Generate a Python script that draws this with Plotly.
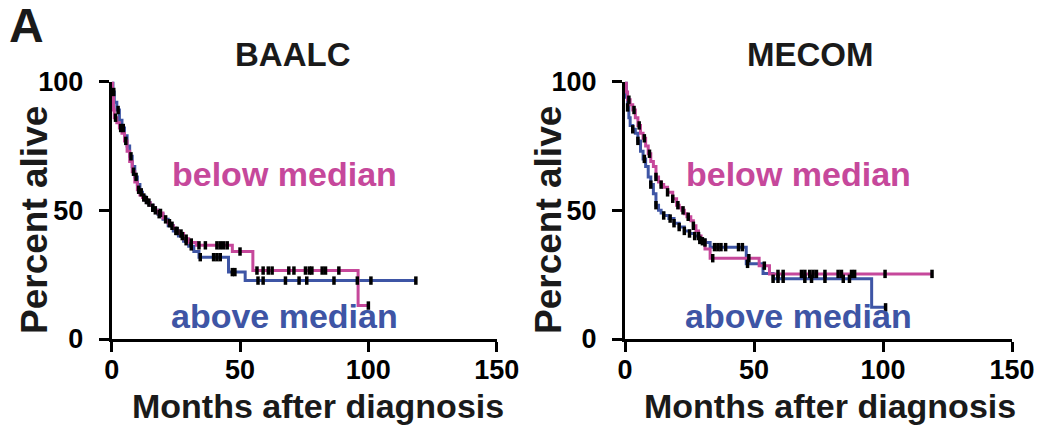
import numpy as np
import plotly.graph_objects as go

# ---------------- data ----------------
# BAALC, below median (pink)
baalc_below_t = [0, 0.3, 0.7, 1, 2, 3, 4, 5, 6, 7, 8, 9, 10, 11, 12, 13, 14, 15, 16, 17, 18, 20, 21, 22, 23, 24, 25, 26, 28, 30, 33, 47, 55, 96]
baalc_below_s = [100, 94, 89, 86, 84, 82, 80, 77, 73, 69, 65, 61, 58, 56, 55, 54, 53, 52, 51, 50, 49, 47, 46, 45, 44, 43, 42, 41, 39, 37.5, 36.4, 34, 26.6, 13]
baalc_below_end = 100
baalc_below_cens = [1.5, 3.5, 5.5, 8.5, 10.5, 12.5, 14.5, 17, 19, 22.5, 25, 27, 29, 31, 34, 36.5, 41, 42.3, 43.6, 45, 50, 56.6, 59, 61, 62.5, 69, 71, 75.5, 77, 78, 82, 83.3, 88.5, 100]

# BAALC, above median (blue)
baalc_above_t = [0, 0.5, 1, 2, 3, 4, 5, 6, 7, 8, 9, 10, 11, 12, 13, 14, 15, 16, 17, 18, 20, 22, 24, 26, 28, 30, 32, 34, 45.5, 52]
baalc_above_s = [100, 96, 92, 89, 85, 82, 79, 75, 71, 67, 63, 60, 57, 55.5, 54, 53, 52, 51, 50, 48.5, 46.5, 44, 42, 40, 38, 36, 34, 31.8, 26, 22.7]
baalc_above_end = 118.5
baalc_above_cens = [0.8, 2.5, 4.5, 7.5, 9.5, 11.5, 13.5, 16, 18.5, 21, 23.5, 25.5, 27.5, 29, 31, 34.5, 39.7, 41, 42.3, 47, 48, 57, 59, 67.7, 73, 76, 86.6, 95.7, 101, 118.5]

# MECOM, below median (pink)
mecom_below_t = [0, 0.5, 1, 2, 3, 4, 5, 6, 7, 8, 9, 10, 11, 12, 13, 14, 15, 16.5, 18.5, 20, 21, 22, 23, 24, 25.5, 26.5, 27.5, 28.5, 29.5, 31, 33, 52, 56]
mecom_below_s = [100, 96, 93, 91, 89, 86, 83, 80, 78, 75, 72, 69, 67, 63, 61, 60, 59, 57, 54.5, 52, 51, 50, 48.7, 47.5, 46, 44, 42, 40, 38, 35, 31.4, 28.5, 25.3]
mecom_below_end = 119
mecom_below_cens = [1.5, 3.5, 5.5, 7.5, 9.5, 12, 14, 16.5, 18.5, 20.5, 22.5, 24.5, 26.5, 28.5, 30, 34, 48, 54, 59.3, 61.3, 68.4, 69.7, 71.6, 72.9, 74.2, 77.5, 82.6, 83.9, 87.8, 89, 100.8, 119]

# MECOM, above median (blue)
mecom_above_t = [0, 0.5, 1, 1.5, 2, 3, 4, 5, 6, 7, 8, 9, 10, 11, 12, 13, 14, 15, 17, 19, 21, 23, 25, 27, 29, 31, 33, 47, 53.5, 57.4, 95.6]
mecom_above_s = [100, 94, 90, 86, 83, 81.5, 80, 77, 73, 70, 67, 63, 60, 56.5, 52, 50, 49, 48, 46.8, 45, 43.5, 42, 41, 40, 38.5, 37.5, 35.7, 29.2, 25.5, 23.4, 12.3]
mecom_above_end = 101
mecom_above_cens = [1, 3, 5, 7.5, 10, 12, 15, 17.5, 19, 21, 23, 25, 27, 29, 31, 34.7, 36, 37.2, 39, 44, 45.5, 47.5, 57.4, 59.3, 61.3, 69.7, 72.3, 77.5, 84.6, 87, 101]

panel_titles = ["BAALC", "MECOM"]
x_ticks = [0, 50, 100, 150]
y_ticks = [0, 50, 100]

PINK = "#C6489B"
BLUE = "#3E55A5"
FONT = "Liberation Sans, Arial, sans-serif"

W, H = 1039, 425


def step_value(times, surv, t):
    idx = np.searchsorted(np.array(times), t, side="right") - 1
    return surv[max(idx, 0)]


fig = go.Figure()

panels = [
    ("x", "y", (baalc_above_t, baalc_above_s, baalc_above_end, baalc_above_cens),
     (baalc_below_t, baalc_below_s, baalc_below_end, baalc_below_cens)),
    ("x2", "y2", (mecom_above_t, mecom_above_s, mecom_above_end, mecom_above_cens),
     (mecom_below_t, mecom_below_s, mecom_below_end, mecom_below_cens)),
]

for xa, ya, above, below in panels:
    for (t, s, end, cens), col in ((above, BLUE), (below, PINK)):
        fig.add_trace(go.Scatter(x=list(t) + [end], y=list(s) + [s[-1]], mode="lines",
                                 line=dict(color=col, width=3, shape="hv"),
                                 xaxis=xa, yaxis=ya, showlegend=False, hoverinfo="skip"))
    for (t, s, end, cens) in (above, below):
        cy = [step_value(t, s, c) for c in cens]
        fig.add_trace(go.Scatter(x=cens, y=cy, mode="markers",
                                 marker=dict(symbol="line-ns-open", size=6, color="black",
                                             line=dict(color="black", width=3.5)),
                                 xaxis=xa, yaxis=ya, showlegend=False, hoverinfo="skip",
                                 cliponaxis=False))

ax_common = dict(showline=True, linecolor="black", linewidth=3, ticks="outside",
                 ticklen=10, tickwidth=3, tickcolor="black", showgrid=False, zeroline=False,
                 automargin=False,
                 tickfont=dict(family=FONT, size=27, color="black", weight="bold"))

x_dom1 = [111.7 / W, 496.7 / W]
x_dom2 = [625.0 / W, 1012.0 / W]
y_dom = [(H - 339.0) / H, (H - 81.7) / H]

fig.update_layout(
    width=W, height=H, margin=dict(l=0, r=0, t=0, b=0, autoexpand=False),
    paper_bgcolor="white", plot_bgcolor="white",
    xaxis=dict(domain=x_dom1, range=[0, 150], tickvals=x_ticks, anchor="y",
               ticklabelstandoff=-5, **ax_common),
    yaxis=dict(domain=y_dom, range=[0, 100], tickvals=y_ticks, anchor="x",
               ticklabelstandoff=10, **ax_common),
    xaxis2=dict(domain=x_dom2, range=[0, 150], tickvals=x_ticks, anchor="y2",
                ticklabelstandoff=-5, **ax_common),
    yaxis2=dict(domain=y_dom, range=[0, 100], tickvals=y_ticks, anchor="x2",
                ticklabelstandoff=10, **ax_common),
)

ann = []
# panel label
ann.append(dict(text="<b>A</b>", x=26.5 / W, y=1 - 26 / H, xref="paper", yref="paper",
                showarrow=False, font=dict(family=FONT, size=48, color="#1a1a1a"),
                xanchor="center", yanchor="middle"))
title_x = [292.5, 810.8]
ytitle_x = [34, 548]
xtitle_x = [317.5, 830]
for i, (xr, yr) in enumerate((("x", "y"), ("x2", "y2"))):
    ann.append(dict(text="<b>%s</b>" % panel_titles[i], x=title_x[i] / W, y=1 - 55 / H,
                    xref="paper", yref="paper", showarrow=False,
                    font=dict(family=FONT, size=33, color="#1a1a1a"),
                    xanchor="center", yanchor="middle"))
    ann.append(dict(text="<b>Percent alive</b>", x=ytitle_x[i] / W, y=1 - 220 / H,
                    xref="paper", yref="paper", showarrow=False, textangle=-90,
                    font=dict(family=FONT, size=37, color="#1a1a1a"),
                    xanchor="center", yanchor="middle"))
    ann.append(dict(text="<b>Months after diagnosis</b>", x=xtitle_x[i] / W, y=1 - 405.5 / H,
                    xref="paper", yref="paper", showarrow=False,
                    font=dict(family=FONT, size=34, color="#1a1a1a"),
                    xanchor="center", yanchor="middle"))
    ann.append(dict(text="<b>below median</b>", x=67.3, y=64.1, xref=xr, yref=yr,
                    showarrow=False, font=dict(family=FONT, size=34, color=PINK),
                    xanchor="center", yanchor="middle"))
    ann.append(dict(text="<b>above median</b>", x=67.3, y=8.9, xref=xr, yref=yr,
                    showarrow=False, font=dict(family=FONT, size=34, color=BLUE),
                    xanchor="center", yanchor="middle"))

fig.update_layout(annotations=ann)

fig.write_html("out.html", post_script="document.body.style.margin='0px';",
               config={"displayModeBar": False})
